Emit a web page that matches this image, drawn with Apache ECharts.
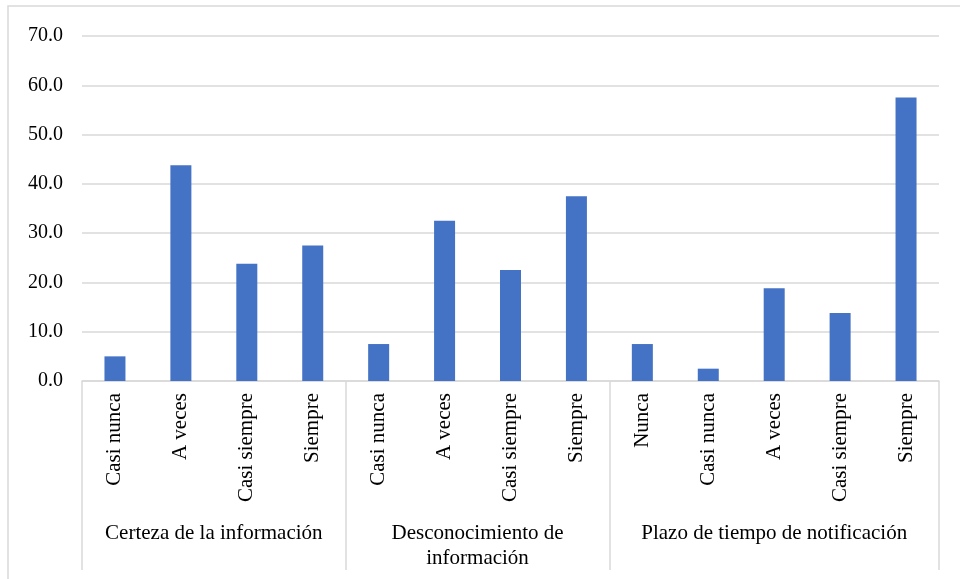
<!DOCTYPE html>
<html>
<head>
<meta charset="utf-8">
<script src="https://cdn.jsdelivr.net/npm/echarts@6/dist/echarts.min.js"></script>
<style>
  html, body { margin: 0; padding: 0; background: #fff; }
  #chart { width: 960px; height: 579px; }
</style>
</head>
<body>
<div id="chart"></div>
<script>
// categorias (eje x) y valores en porcentaje
var categorias = ['Casi nunca', 'A veces', 'Casi siempre', 'Siempre',
                  'Casi nunca', 'A veces', 'Casi siempre', 'Siempre',
                  'Nunca', 'Casi nunca', 'A veces', 'Casi siempre', 'Siempre'];
var valores = [5.0, 43.8, 23.8, 27.5, 7.5, 32.5, 22.5, 37.5, 7.5, 2.5, 18.8, 13.8, 57.5];
// grupos: nombre y limites en indice de categoria
var grupos = ['Certeza de la información', 'Desconocimiento de\ninformación', 'Plazo de tiempo de notificación'];
var limitesGrupo = [0, 4, 8, 13];
var centrosGrupo = [2, 6, 10.5];
var yTicks = [0, 10, 20, 30, 40, 50, 60, 70];

var fuente = "'Liberation Serif', 'Times New Roman', serif";
var gris = '#d9d9d9';

var dom = document.getElementById('chart');
var myChart = echarts.init(dom, null, { renderer: 'canvas' });

var option = {
  animation: false,
  grid: {
    top: 36,    // margen superior
    bottom: 198,
    left: 82,
    right: 21
  },
  graphic: [{
    type: 'rect',
    shape: { x: 8, y: 6, width: 1000, height: 700 },
    style: { fill: 'none', stroke: gris, lineWidth: 1.5 },
    silent: true
  }],
  xAxis: [{
    type: 'category',
    data: categorias,
    axisLine: { lineStyle: { color: gris, width: 1.5 } },
    axisTick: { show: false },
    axisLabel: {
      interval: 0,
      rotate: 90,
      margin: 12,
      fontFamily: fuente,
      fontSize: 21,
      color: '#000'
    }
  }, {
    type: 'value',
    position: 'bottom',
    min: 0,
    max: 13,
    axisLine: { show: false },
    splitLine: { show: false },
    axisTick: {
      show: true,
      inside: false,
      length: 189,
      customValues: limitesGrupo,
      lineStyle: { color: gris, width: 1.5 }
    },
    axisLabel: {
      customValues: centrosGrupo,
      margin: 140,
      fontFamily: fuente,
      fontSize: 21,
      lineHeight: 25,
      color: '#000',
      align: 'center',
      formatter: function (v) {
        return grupos[centrosGrupo.indexOf(v)];
      }
    }
  }],
  yAxis: {
    type: 'value',
    min: yTicks[0],
    max: yTicks[yTicks.length - 1],
    interval: 10,
    axisLine: { show: false },
    axisTick: { show: false },
    splitLine: { lineStyle: { color: gris, width: 1.5 } },
    axisLabel: {
      margin: 19,
      fontFamily: fuente,
      fontSize: 20,
      color: '#000',
      formatter: function (v) { return v.toFixed(1); }
    }
  },
  series: [{
    type: 'bar',
    xAxisIndex: 0,
    data: valores,
    barWidth: 21,
    itemStyle: { color: '#4472C4' }
  }]
};

if (option && typeof option === 'object') {
  myChart.setOption(option);
}
window.addEventListener('resize', myChart.resize);
</script>
</body>
</html>
